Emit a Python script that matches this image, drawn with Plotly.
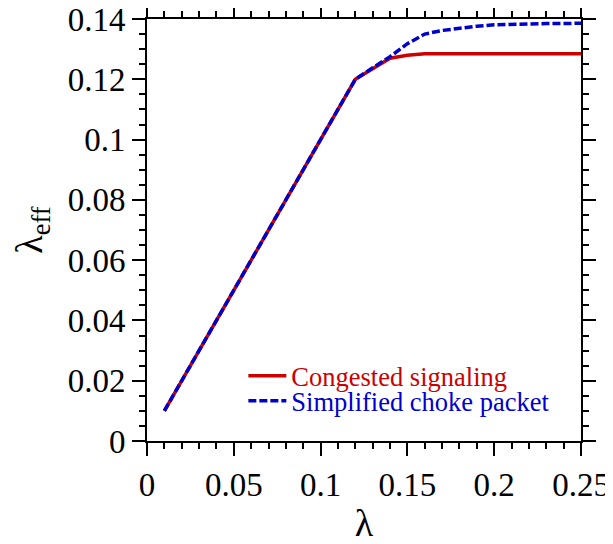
import plotly.graph_objects as go

lam = [0.01, 0.12, 0.13, 0.14, 0.15, 0.16, 0.17, 0.18, 0.19, 0.20, 0.21, 0.22, 0.23, 0.24, 0.25]
congested = [0.01, 0.12, 0.1235, 0.127, 0.128, 0.1285, 0.1285, 0.1285, 0.1285, 0.1285, 0.1285, 0.1285, 0.1285, 0.1285, 0.1285]
choke = [0.01, 0.12, 0.1238, 0.1275, 0.1318, 0.1350, 0.1362, 0.1370, 0.1376, 0.1381, 0.1383, 0.1384, 0.1385, 0.1385, 0.1386]

names = ["Congested signaling", "Simplified choke packet"]
colors = ["#cc0000", "#0000cc"]

font = "Liberation Serif"

fig = go.Figure()
fig.add_trace(go.Scatter(x=lam, y=congested, mode="lines",
                         name=f"<span style='color:{colors[0]}'>{names[0]}</span>",
                         line=dict(color=colors[0], width=3.5), legend="legend"))
fig.add_trace(go.Scatter(x=lam, y=choke, mode="lines",
                         name=f"<span style='color:{colors[1]}'>{names[1]}</span>",
                         line=dict(color=colors[1], width=3.5, dash="8px,3px"), legend="legend2"))

axis_common = dict(
    showline=True, linecolor="black", linewidth=2, mirror="allticks",
    ticks="outside", ticklen=13, tickwidth=2, tickcolor="black",
    showgrid=False, zeroline=False, automargin=False,
    ticklabeloverflow="allow",
    tickfont=dict(family=font, size=33, color="black"),
)
fig.update_xaxes(range=[0, 0.25], dtick=0.05, tick0=0,
                 minor=dict(dtick=0.01, ticks="outside", ticklen=6, tickwidth=2, tickcolor="black"),
                 title=dict(text="λ", font=dict(family=font, size=38, color="black"), standoff=16),
                 **axis_common)
fig.update_yaxes(range=[0, 0.14], dtick=0.02, tick0=0,
                 minor=dict(dtick=0.005, ticks="outside", ticklen=6, tickwidth=2, tickcolor="black"),
                 title=dict(text="λ<sub>eff</sub>", font=dict(family=font, size=38, color="black"), standoff=13),
                 **axis_common)

leg_common = dict(xanchor="left", yanchor="middle", bgcolor="rgba(0,0,0,0)",
                  font=dict(family=font, size=26.5), itemwidth=38)
fig.update_layout(
    width=605, height=536,
    margin=dict(l=139, r=32, t=11, b=103),
    plot_bgcolor="white", paper_bgcolor="white",
    legend=dict(x=0.222, y=0.154, **leg_common),
    legend2=dict(x=0.222, y=0.095, **leg_common),
    showlegend=True,
)
fig.write_html("out.html")
